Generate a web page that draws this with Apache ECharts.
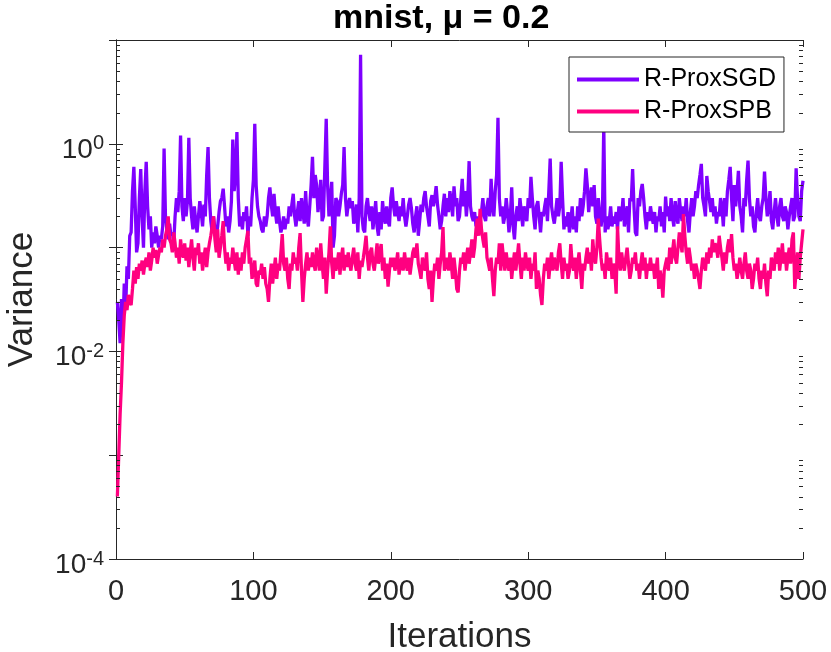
<!DOCTYPE html>
<html>
<head>
<meta charset="utf-8">
<title>mnist, mu = 0.2</title>
<script src="https://cdn.jsdelivr.net/npm/echarts@6/dist/echarts.min.js"></script>
<style>
  html, body { margin: 0; padding: 0; background: #fff; }
  #chart { width: 831px; height: 652px; }
</style>
</head>
<body>
<div id="chart"></div>
<script>
// variance per iteration (iterations 1..500)
var proxSGD = [
  .03,.02,.012,.032,.016,.045,.025,.066,.05,.13,
  .14,.35,.6,.25,.09,.11,.3,.57,.2,.1,
  .35,.67,.25,.15,.2,.1,.14,.11,.16,.13,
  .1,.13,.12,.16,.9,.2,.15,.12,.17,.13,
  .14,.11,.2,.3,.22,.35,1.2,.25,.18,.3,
  .2,.28,1.14,.3,.2,.15,.25,.18,.14,.2,
  .28,.22,.16,.26,.2,.5,.93,.3,.18,.14,
  .2,.15,.13,.16,.22,.28,.3,.37,.25,.16,
  .2,.14,.18,.28,1.1,.35,.5,1.3,.3,.16,
  .2,.15,.22,.18,.25,.13,.2,.16,.3,.45,
  1.56,.4,.25,.2,.18,.15,.14,.2,.16,.2,
  .3,.38,.26,.2,.33,.22,.17,.25,.18,.14,
  .16,.2,.15,.19,.17,.25,.2,.26,.33,.2,
  .16,.22,.28,.18,.3,.22,.17,.35,.2,.16,
  .25,.4,.75,.3,.5,.4,.22,.3,.45,.18,
  .2,.6,1.74,.4,.2,.3,.43,.1,.13,.3,
  .28,.2,.25,.33,.4,.93,.3,.2,.26,.3,
  .24,.28,.17,.2,.26,.14,.3,7.2,.2,.15,
  .14,.25,.3,.22,.18,.25,.15,.2,.28,.16,
  .13,.22,.15,.28,.2,.17,.25,.18,.16,.3,
  .38,.25,.2,.28,.22,.18,.25,.2,.3,.2,
  .16,.2,.26,.3,.24,.17,.14,.2,.25,.13,
  .18,.26,.22,.3,.35,.25,.2,.16,.28,.32,
  .25,.3,.39,.26,.2,.15,.18,.25,.33,.2,
  .3,.22,.35,.28,.2,.39,.25,.3,.18,.2,
  .3,.46,.25,.35,.2,.3,.68,.25,.2,.18,
  .22,.16,.2,.14,.18,.22,.3,.2,.18,.25,
  .3,.2,.46,.25,.2,.35,.5,1.78,.3,.2,
  .25,.17,.2,.3,.22,.14,.2,.38,.16,.12,
  .2,.25,.18,.3,.22,.16,.25,.2,.18,.3,
  .24,.48,.3,.2,.15,.25,.28,.2,.14,.22,
  .2,.25,.3,.18,.35,.72,.25,.2,.17,.22,
  .3,.2,.25,.67,.3,.15,.2,.16,.22,.14,
  .18,.25,.15,.2,.14,.25,.18,.3,.2,.25,
  .35,.58,.4,.22,.3,.38,.25,.4,.2,.17,
  .3,.22,.16,.2,1.5,.14,.2,.15,.18,.25,
  .16,.2,.17,.22,.15,.25,.18,.2,.3,.16,
  .2,.25,.14,.3,.28,.57,.25,.14,.13,.3,
  .25,.35,.41,.3,.2,.15,.22,.18,.25,.2,
  .17,.22,.14,.2,.18,.25,.16,.22,.14,.31,
  .2,.25,.18,.3,.2,.16,.28,.2,.17,.3,
  .22,.18,.25,.2,.3,.18,.14,.22,.3,.2,
  .25,.35,.3,.4,.5,.64,.3,.25,.2,.49,
  .35,.28,.22,.3,.2,.25,.17,.22,.2,.3,
  .25,.16,.3,.2,.35,.45,.6,.3,.18,.4,
  .25,.35,.55,.25,.2,.14,.3,.25,.45,.69,
  .3,.2,.25,.16,.14,.22,.3,.2,.18,.25,
  .3,.54,.3,.2,.25,.35,.18,.15,.22,.3,
  .2,.16,.25,.3,.2,.18,.25,.22,.15,.2,
  .25,.3,.18,.2,.58,.3,.2,.18,.35,.44
];

var proxSPB = [
  .0004,.0004,.0025,.005,.012,.022,.03,.025,.035,.03,
  .028,.04,.06,.045,.065,.05,.07,.06,.075,.055,
  .07,.08,.065,.09,.06,.075,.1,.08,.095,.07,
  .085,.1,.09,.12,.1,.13,.15,.2,.12,.11,
  .09,.14,.11,.08,.1,.07,.12,.09,.08,.11,
  .075,.1,.065,.09,.12,.08,.06,.1,.085,.11,
  .07,.09,.06,.08,.1,.065,.09,.11,.13,.16,
  .2,.12,.09,.15,.08,.1,.13,.18,.1,.07,
  .09,.06,.08,.07,.1,.075,.06,.09,.055,.08,
  .06,.09,.07,.1,.12,.145,.07,.08,.05,.06,
  .075,.045,.042,.06,.055,.07,.05,.065,.045,.04,
  .03,.05,.07,.045,.06,.08,.05,.07,.06,.09,
  .135,.07,.06,.08,.05,.04,.07,.06,.09,.07,
  .08,.06,.1,.138,.06,.03,.05,.07,.09,.06,
  .08,.065,.09,.07,.06,.1,.08,.06,.11,.07,
  .05,.08,.036,.06,.09,.16,.07,.05,.08,.06,
  .07,.09,.055,.08,.1,.06,.085,.065,.09,.07,
  .06,.08,.1,.07,.06,.09,.05,.075,.065,.08,
  .1,.13,.08,.06,.09,.1,.07,.06,.08,.11,
  .07,.09,.108,.06,.08,.05,.07,.042,.06,.08,
  .065,.08,.06,.07,.09,.055,.07,.08,.06,.09,
  .07,.06,.08,.055,.07,.09,.1,.08,.11,.07,
  .06,.05,.08,.07,.06,.09,.05,.04,.06,.03,
  .05,.07,.06,.08,.05,.07,.09,.158,.06,.07,
  .08,.06,.09,.07,.05,.08,.06,.04,.037,.06,
  .08,.07,.09,.06,.08,.1,.07,.09,.12,.08,
  .1,.15,.19,.13,.236,.15,.12,.1,.14,.08,
  .07,.06,.08,.05,.034,.06,.08,.07,.11,.06,
  .11,.08,.06,.09,.07,.06,.08,.05,.07,.09,
  .06,.08,.11,.07,.05,.08,.06,.09,.07,.06,
  .08,.05,.07,.06,.09,.04,.06,.05,.035,.028,
  .05,.07,.06,.08,.05,.07,.09,.06,.08,.07,
  .06,.09,.11,.07,.05,.08,.06,.07,.05,.06,
  .108,.07,.06,.08,.05,.07,.09,.06,.04,.07,
  .06,.08,.1,.07,.09,.06,.12,.08,.07,.1,
  .19,.12,.08,.06,.07,.05,.09,.07,.06,.08,
  .05,.07,.06,.036,.16,.08,.06,.09,.07,.06,
  .08,.1,.07,.05,.06,.08,.07,.09,.06,.07,
  .05,.07,.09,.06,.08,.05,.07,.06,.08,.06,
  .07,.05,.06,.08,.04,.06,.05,.033,.06,.07,
  .08,.06,.1,.07,.09,.12,.08,.07,.1,.14,
  .11,.09,.21,.13,.09,.07,.1,.08,.06,.07,
  .05,.07,.06,.05,.04,.06,.08,.07,.06,.09,
  .07,.1,.08,.12,.09,.11,.1,.08,.13,.1,
  .08,.06,.09,.07,.1,.12,.09,.135,.08,.06,
  .07,.05,.06,.08,.06,.05,.07,.09,.06,.05,
  .07,.06,.04,.05,.07,.06,.08,.05,.04,.06,
  .05,.07,.045,.034,.06,.05,.08,.07,.06,.09,
  .07,.1,.06,.08,.11,.07,.09,.06,.08,.1,
  .07,.12,.14,.04,.06,.09,.05,.08,.11,.15
];

var seriesNames = ["R-ProxSGD", "R-ProxSPB"];
var seriesColors = ["#7f00ff", "#ff0080"];

// minor log ticks 2..9 in every decade
var minorTicks = [];
for (var d = -4; d <= 0; d++) {
  for (var k = 2; k <= 9; k++) {
    minorTicks.push([0, k * Math.pow(10, d)]);
  }
}

var ink = "#262626";
var font = "Liberation Sans, Arial, Helvetica, sans-serif";

function toPoints(arr) {
  return arr.map(function(v, i) {
    return [i + 1, v];
  });
}

// MATLAB style 10^n labels, only every second decade
function powLabel(v) {
  var e = Math.round(Math.log(v) / Math.LN10);
  if (e % 2 !== 0) return "";
  return "{a|10}{b|" + e + "}";
}

var chart = echarts.init(document.getElementById("chart"));

var option = {
  animation: false,
  backgroundColor: "#fff",
  textStyle: { fontFamily: font },
  title: {
    text: "mnist, \u03bc = 0.2",
    left: 333,
    top: 2,
    padding: 0,
    textStyle: { fontFamily: font, fontWeight: "bold", fontSize: 34, color: "#000" }
  },
  legend: {
    data: seriesNames,
    orient: "vertical",
    left: 569,
    top: 57,
    padding: [10, 8, 8, 8],
    itemGap: 7,
    itemWidth: 62,
    itemHeight: 4,
    icon: "rect",
    backgroundColor: "#fff",
    borderColor: ink,
    borderWidth: 1,
    borderRadius: 0,
    textStyle: { fontFamily: font, fontSize: 25, color: "#000" }
  },
  grid: {
    left: 116,
    right: 28,
    top: 40,
    bottom: 93,
    containLabel: false,
    outerBoundsMode: "none"
  },
  xAxis: [
    {
      type: "value",
      min: 0,
      max: 500,
      interval: 100,
      name: "Iterations",
      nameLocation: "middle",
      nameGap: 61,
      nameTextStyle: { fontFamily: font, fontSize: 35, color: ink },
      axisLine: { lineStyle: { color: ink, width: 1 } },
      axisTick: { inside: true, length: 7, lineStyle: { color: ink } },
      axisLabel: { fontFamily: font, fontSize: 29, color: ink, margin: 18 },
      splitLine: { show: false }
    },
    {
      type: "value",
      position: "top",
      min: 0,
      max: 500,
      interval: 100,
      axisLine: { show: true, lineStyle: { color: ink, width: 1 } },
      axisTick: { inside: true, length: 7, lineStyle: { color: ink } },
      axisLabel: { show: false },
      splitLine: { show: false }
    }
  ],
  yAxis: [
    {
      type: "log",
      logBase: 10,
      min: 1e-4,
      max: 10,
      name: "Variance",
      nameLocation: "middle",
      nameGap: 76,
      nameTextStyle: { fontFamily: font, fontSize: 35, color: ink },
      axisLine: { show: true, lineStyle: { color: ink, width: 1 } },
      axisTick: { inside: true, length: 7, lineStyle: { color: ink } },
      axisLabel: {
        margin: 12,
        formatter: powLabel,
        rich: {
          a: { fontFamily: font, fontSize: 28, color: ink, lineHeight: 26, verticalAlign: "bottom" },
          b: { fontFamily: font, fontSize: 20, color: ink, lineHeight: 40 }
        }
      },
      splitLine: { show: false }
    },
    {
      type: "log",
      logBase: 10,
      min: 1e-4,
      max: 10,
      position: "right",
      axisLine: { show: true, lineStyle: { color: ink, width: 1 } },
      axisTick: { inside: true, length: 7, lineStyle: { color: ink } },
      axisLabel: { show: false },
      splitLine: { show: false }
    }
  ],
  series: [
    {
      name: seriesNames[0],
      type: "line",
      data: toPoints(proxSGD),
      symbol: "none",
      color: seriesColors[0],
      lineStyle: { color: seriesColors[0], width: 3.3 },
      z: 2
    },
    {
      name: seriesNames[1],
      type: "line",
      data: toPoints(proxSPB),
      symbol: "none",
      color: seriesColors[1],
      lineStyle: { color: seriesColors[1], width: 3.3 },
      z: 3
    },
    {
      // short log minor ticks on the left and right box edges
      name: "minor",
      type: "custom",
      silent: true,
      data: minorTicks,
      z: 5,
      renderItem: function(params, api) {
        var p = api.coord([0, api.value(1)]);
        var q = api.coord([500, api.value(1)]);
        var y = Math.round(p[1]) + 0.5;
        return {
          type: "group",
          children: [
            { type: "line", shape: { x1: p[0], y1: y, x2: p[0] + 4, y2: y }, style: { stroke: ink, lineWidth: 1 } },
            { type: "line", shape: { x1: q[0] - 4, y1: y, x2: q[0], y2: y }, style: { stroke: ink, lineWidth: 1 } }
          ]
        };
      }
    }
  ]
};

chart.setOption(option);
</script>
</body>
</html>
